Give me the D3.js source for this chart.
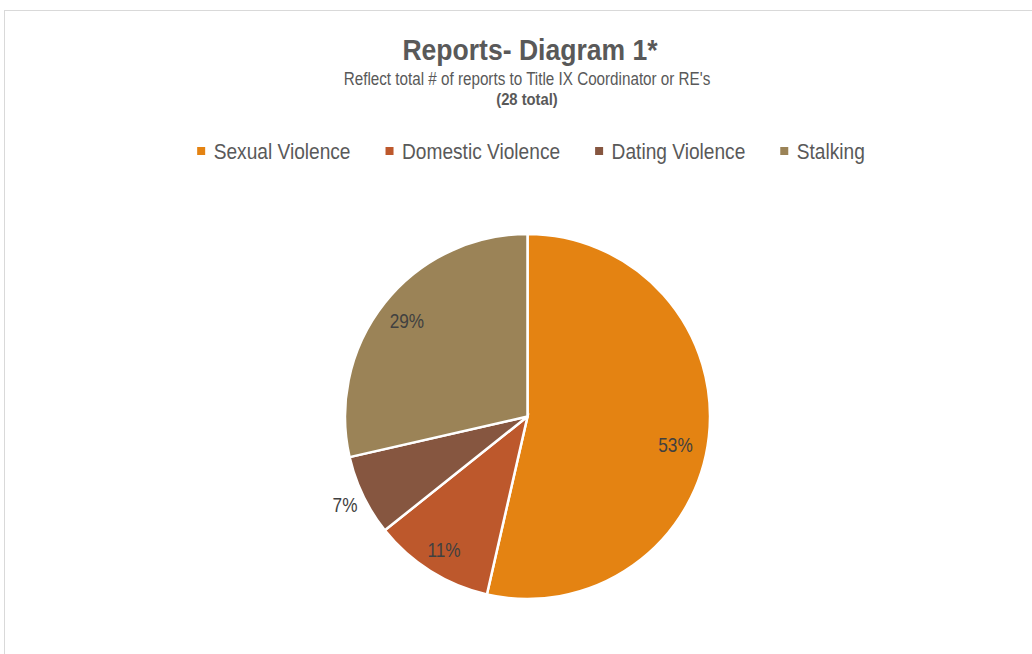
<!DOCTYPE html>
<html>
<head>
<meta charset="utf-8">
<script src="https://cdn.jsdelivr.net/npm/d3@7"></script>
<style>
  html, body { margin: 0; padding: 0; background: #fff; }
  svg { display: block; }
  text { font-family: "Liberation Sans", Arial, sans-serif; }
</style>
</head>
<body>
<div id="chart"></div>
<script>
// data
const categories = ["Sexual Violence", "Domestic Violence", "Dating Violence", "Stalking"];
const reportCounts = [15, 3, 2, 8];
const percentLabels = ["53%", "11%", "7%", "29%"];
const sliceColors = ["#E48312", "#BD582C", "#865640", "#9B8357"];
const titleText = "Reports- Diagram 1*";
const subtitleText = "Reflect total # of reports to Title IX Coordinator or RE's";
const totalText = "(28 total)";

const width = 1032;
const height = 654;
const center = { x: 527.5, y: 416.5 };
const radius = 182.5;
// label placement (Excel best fit): share of radius and angle nudge in degrees
const labelRadius = [0.825, 0.86, 1.11, 0.845];
const labelNudge = [4.2, 0, 0, 0];

const textColor = "#595959";
const labelColor = "#404040";
const narrow = 0.87; // no Arial Narrow here, so squeeze Liberation Sans

const svg = d3.select("#chart")
    .append("svg")
    .attr("width", width)
    .attr("height", height);

// chart area border
svg.append("rect")
    .attr("x", 4.5)
    .attr("y", 10.5)
    .attr("width", 1100)
    .attr("height", 800)
    .attr("fill", "#fff")
    .attr("stroke", "#D9D9D9")
    .attr("stroke-width", 1);

function squeezedText(parent, x, y, str, size, bold, scale = narrow) {
    const g = parent.append("g")
        .attr("transform", `translate(${x}, ${y}) scale(${scale}, 1)`);
    const t = g.append("text")
        .attr("text-anchor", "middle")
        .style("font-size", `${size}px`)
        .style("font-weight", bold ? "bold" : "normal")
        .style("fill", textColor)
        .text(str);
    return t;
}

// titles
squeezedText(svg, 530, 59.5, titleText, 30, true, 0.885);
squeezedText(svg, 527, 84.5, subtitleText, 17.5, false);
squeezedText(svg, 527, 105, totalText, 17, true);

// legend
const legend = svg.append("g");
const items = legend.selectAll("g.item")
    .data(categories)
    .join("g")
    .attr("class", "item");

items.append("rect")
    .attr("width", 8)
    .attr("height", 8)
    .attr("y", -4)
    .attr("fill", (d, i) => sliceColors[i]);

items.append("text")
    .attr("transform", `translate(16.5, 7.5) scale(${narrow}, 1)`)
    .style("font-size", "22px")
    .style("fill", textColor)
    .text(d => d);

let cursor = 0;
items.each(function () {
    const w = d3.select(this).select("text").node().getComputedTextLength() * narrow;
    d3.select(this).attr("transform", `translate(${cursor}, 0)`);
    cursor += 16.5 + w + 35;
});
const legendWidth = cursor - 35;
legend.attr("transform", `translate(${531 - legendWidth / 2}, 151)`);

// pie
const pie = d3.pie().sort(null).value(d => d);
const arcs = pie(reportCounts);
const arc = d3.arc().innerRadius(0).outerRadius(radius);

const pieGroup = svg.append("g")
    .attr("transform", `translate(${center.x}, ${center.y})`);

pieGroup.selectAll("path")
    .data(arcs)
    .join("path")
    .attr("d", arc)
    .attr("fill", (d, i) => sliceColors[i])
    .attr("stroke", "#fff")
    .attr("stroke-width", 2.5)
    .attr("stroke-linejoin", "miter");

pieGroup.selectAll("text.label")
    .data(arcs)
    .join("text")
    .attr("class", "label")
    .attr("transform", (d, i) => {
        const r = radius * labelRadius[i];
        const a = (d.startAngle + d.endAngle) / 2 + labelNudge[i] * Math.PI / 180;
        const x = r * Math.sin(a);
        const y = -r * Math.cos(a);
        return `translate(${x}, ${y}) scale(0.82, 1)`;
    })
    .attr("text-anchor", "middle")
    .attr("dy", "0.36em")
    .style("font-size", "21px")
    .style("fill", labelColor)
    .text((d, i) => percentLabels[i]);
</script>
</body>
</html>
